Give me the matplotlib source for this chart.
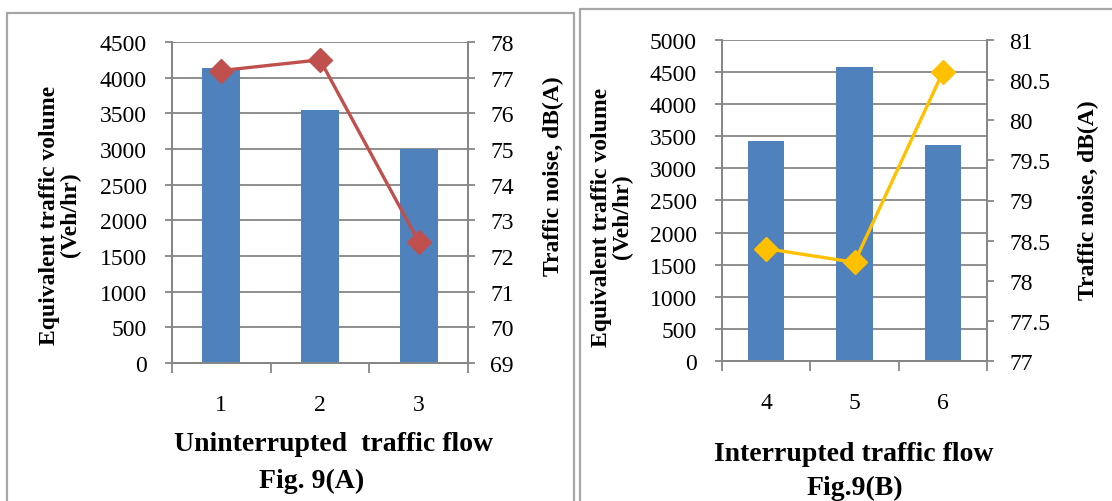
import matplotlib
matplotlib.use('Agg')
import matplotlib.pyplot as plt
from matplotlib.patches import Rectangle
import numpy as np

# data
cat_a = ['1', '2', '3']
vol_a = [4130, 3545, 3000]        # Equivalent traffic volume (Veh/hr)
noise_a = [77.2, 77.5, 72.4]      # Traffic noise dB(A)

cat_b = ['4', '5', '6']
vol_b = [3430, 4580, 3370]
noise_b = [78.4, 78.23, 80.6]

W, H = 1112, 502
plt.rcParams['font.family'] = ['Liberation Serif', 'DejaVu Serif']
fig = plt.figure(figsize=(W / 100, H / 100), dpi=100)

BAR = '#4F81BD'
GRID = '#868686'


def px_box(x0, y0, x1, y1):
    # pixel box (top-left origin) -> figure fraction [l, b, w, h]
    return [x0 / W, (H - y1) / H, (x1 - x0) / W, (y1 - y0) / H]


def panel(box, cats, vol, noise, vmax, vstep, nlo, nhi, nstep, ncolor, bw,
          lpad, rpad):
    ax = fig.add_axes(px_box(*box))
    x = np.arange(1, len(cats) + 1)
    ax.bar(x, vol, width=bw, color=BAR, zorder=2)
    ax.set_xlim(0.5, len(cats) + 0.5)
    ax.set_ylim(0, vmax)
    ax.set_yticks(np.arange(0, vmax + 1, vstep))
    ax.set_xticks(x)
    ax.set_xticklabels(cats)
    ax.set_xticks(np.arange(0.5, len(cats) + 1, 1), minor=True)
    ax.tick_params(axis='x', which='major', length=0, pad=22, labelsize=17)
    ax.tick_params(axis='x', which='minor', length=7, width=1.3, color=GRID,
                   direction='out')
    ax.tick_params(axis='y', length=5, width=1.3, color=GRID, pad=lpad,
                   labelsize=17)
    ax.grid(axis='y', color=GRID, lw=1.3, zorder=0)
    ax.set_axisbelow(True)
    for s in ax.spines.values():
        s.set_color(GRID)
        s.set_linewidth(1.3)
    ax.spines['top'].set_visible(False)

    ax2 = ax.twinx()
    ax2.plot(x, noise, color=ncolor, lw=2.4, marker='D', markersize=12,
             zorder=3)
    ax2.set_ylim(nlo, nhi)
    ax2.set_yticks(np.arange(nlo, nhi + nstep / 2, nstep))
    ax2.yaxis.set_major_formatter(plt.FuncFormatter(lambda v, p: f'{v:g}'))
    ax2.tick_params(axis='y', length=5, width=1.3, color=GRID, pad=rpad,
                    labelsize=17)
    for s in ax2.spines.values():
        s.set_color(GRID)
        s.set_linewidth(1.3)
    ax2.spines['top'].set_visible(False)
    return ax, ax2


panel((172, 43, 468, 364), cat_a, vol_a, noise_a, 4500, 500, 69, 78, 1,
      '#C0504D', 0.385, 13, 11)
panel((722, 41, 987, 362), cat_b, vol_b, noise_b, 5000, 500, 77, 81, 0.5,
      '#FFC000', 0.41, 13, 11)

# panel borders
borders = [(7, 14, 574), (580, 10, W + 10)]
for x0, y0, x1 in borders:
    fig.patches.append(Rectangle((x0 / W, -0.05), (x1 - x0) / W,
                                 (H - y0) / H + 0.05,
                                 transform=fig.transFigure, fill=False,
                                 edgecolor='#a6a6a6', lw=1.6, zorder=-1))


def ftext(xp, yp, s, **kw):
    fig.text(xp / W, 1 - yp / H, s, ha='center', va='center', **kw)


# axis titles
ftext(60, 215, 'Equivalent traffic volume\n(Veh/hr)', rotation=90,
      fontsize=17, fontweight='bold', linespacing=1.0)
ftext(553, 176, 'Traffic noise, dB(A)', rotation=90, fontsize=17,
      fontweight='bold')
ftext(612, 217, 'Equivalent traffic volume\n(Veh/hr)', rotation=90,
      fontsize=17, fontweight='bold', linespacing=1.0)
ftext(1088, 200, 'Traffic noise, dB(A)', rotation=90, fontsize=17,
      fontweight='bold')

ftext(333, 445, 'Uninterrupted  traffic flow', fontsize=20, fontweight='bold')
ftext(312, 481, 'Fig. 9(A)', fontsize=20, fontweight='bold')
ftext(854, 455, 'Interrupted traffic flow', fontsize=20, fontweight='bold')
ftext(855, 488, 'Fig.9(B)', fontsize=20, fontweight='bold')

fig.savefig('out.png', dpi=100)
